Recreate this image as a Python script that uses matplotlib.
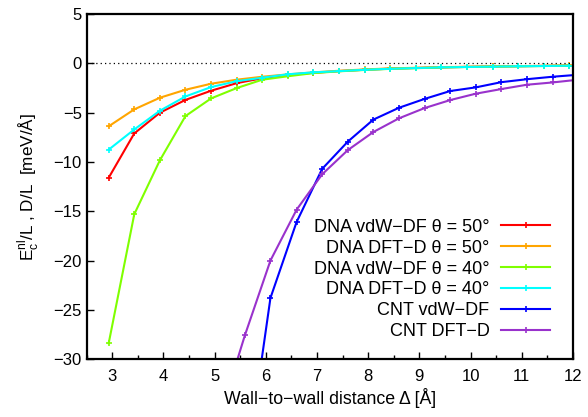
import matplotlib
matplotlib.use("Agg")
import matplotlib.pyplot as plt

plt.rcParams['font.family'] = ['Liberation Sans', 'DejaVu Sans']

x_dna = [2.93, 3.43, 3.93, 4.43, 4.93, 5.43, 5.93, 6.43, 6.93, 7.43, 7.93, 8.43,
         8.93, 9.43, 9.93, 10.43, 10.93, 11.43, 11.93]
dna_vdw_50 = [-11.6, -7.1, -5.0, -3.7, -2.77, -2.0, -1.5, -1.15, -0.95, -0.78, -0.64,
              -0.53, -0.46, -0.40, -0.35, -0.31, -0.28, -0.25, -0.22]
dna_dftd_50 = [-6.38, -4.66, -3.48, -2.67, -2.06, -1.65, -1.35, -1.11, -0.91, -0.74,
               -0.61, -0.50, -0.44, -0.37, -0.34, -0.30, -0.27, -0.24, -0.20]
dna_vdw_40 = [-28.4, -15.3, -9.83, -5.34, -3.55, -2.5, -1.65, -1.3, -0.98, -0.8,
              -0.66, -0.55, -0.48, -0.41, -0.36, -0.32, -0.29, -0.26, -0.23]
dna_dftd_40 = [-8.75, -6.7, -4.8, -3.35, -2.4, -1.8, -1.45, -1.1, -0.9, -0.78, -0.64,
               -0.54, -0.47, -0.40, -0.36, -0.32, -0.29, -0.26, -0.23]

x_cnt = [5.09, 5.59, 6.09, 6.6, 7.1, 7.6, 8.1, 8.6, 9.1, 9.6, 10.1, 10.6, 11.1, 11.6, 12.1]
cnt_vdw = [-60.0, -42.0, -23.8, -16.1, -10.7, -7.94, -5.7, -4.5, -3.6, -2.8, -2.43,
           -1.9, -1.6, -1.35, -1.15]
cnt_dftd = [-36.0, -27.6, -20.0, -14.85, -11.25, -8.8, -6.96, -5.57, -4.53, -3.72,
            -3.07, -2.6, -2.16, -1.93, -1.65]

labels = ["DNA vdW\u2212DF \u03b8 = 50\u00b0", "DNA DFT\u2212D \u03b8 = 50\u00b0",
          "DNA vdW\u2212DF \u03b8 = 40\u00b0", "DNA DFT\u2212D \u03b8 = 40\u00b0",
          "CNT vdW\u2212DF", "CNT DFT\u2212D"]
colors = ["#ff0000", "#ffa500", "#7fff00", "#00ffff", "#0000ff", "#9932cc"]

fig = plt.figure(figsize=(5.88, 4.17), dpi=100)
ax = fig.add_axes([0.1474, 0.139, 0.8271, 0.827])

series = [(x_dna, dna_vdw_50), (x_dna, dna_dftd_50), (x_dna, dna_vdw_40),
          (x_dna, dna_dftd_40), (x_cnt, cnt_vdw), (x_cnt, cnt_dftd)]
for (xs, ys), lab, c in zip(series, labels, colors):
    ax.plot(xs, ys, color=c, lw=1.5, marker='+', ms=4, mew=1.2, label=lab)

ax.axhline(0, color='black', lw=0.9, ls=(0, (1, 2.5)))

ax.set_xlim(2.5, 12)
ax.set_ylim(-30, 5)
ax.set_xticks(range(3, 13))
ax.set_xticks([x + 0.5 for x in range(2, 12)], minor=True)
ax.set_yticks(range(-30, 6, 5))
ax.tick_params(axis='both', which='both', direction='in', labelsize=12,
               top=False, right=False)
ax.tick_params(which='major', length=5, width=1)
ax.tick_params(which='minor', length=3, width=1)
ax.tick_params(axis='x', pad=7)
ax.set_yticklabels([("\u2212%d" % -v) if v < 0 else str(v) for v in range(-30, 6, 5)])
for s in ax.spines.values():
    s.set_linewidth(1.6)

ax.set_xlabel("Wall\u2212to\u2212wall distance \u0394 [\u00c5]", fontsize=12.8, labelpad=3)
ax.set_ylabel("E$_\\mathregular{c}^\\mathregular{nl}$/L , D/L  [meV/\u00c5]", fontsize=12.3, labelpad=9)

leg = ax.legend(loc='lower right', markerfirst=False, frameon=False, fontsize=13,
                handlelength=2.7, labelspacing=0.22, handletextpad=0.66,
                borderaxespad=0.0, bbox_to_anchor=(0.968, 0.033))
for col in leg._legend_handle_box.get_children():
    col.align = "right"

fig.savefig("out.png", dpi=100)
